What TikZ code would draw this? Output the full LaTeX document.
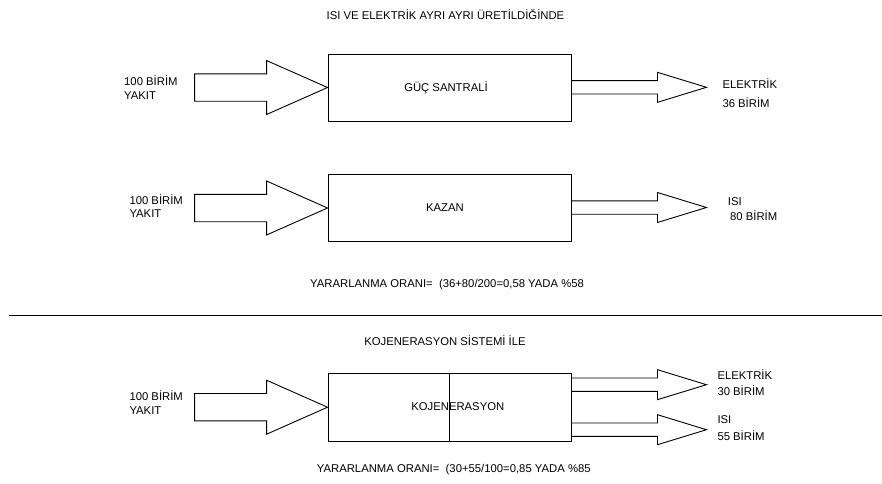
\documentclass[tikz,border=0pt]{standalone}
\usepackage{fontspec}
\setmainfont{Liberation Sans}
\begin{document}
\begin{tikzpicture}[x=1pt,y=-1pt,
  box/.style={draw=black, line width=0.9pt, rectangle, inner sep=0pt, minimum width=243pt},
  blk/.style={draw=black, line width=0.9pt, line join=miter},
  lbl/.style={anchor=base west, inner sep=0pt, font=\fontsize{11.3}{13}\selectfont},
  ctr/.style={anchor=base, inner sep=0pt, font=\fontsize{11.3}{13}\selectfont},
  pics/inarrow/.style={code={\draw[blk] (-133,-13.7) -- (-61,-13.7) -- (-61,-27) -- (0,0) -- (-61,27) -- (-61,13.7) -- (-133,13.7) -- cycle;}},
  pics/outarrow/.style={code={\draw[blk] (0,-6.7) -- (86,-6.7) -- (86,-15) -- (135,0) -- (86,15) -- (86,6.7) -- (0,6.7);}}
]
\useasboundingbox (0,0) rectangle (882,483);

% titles
\node[ctr] (t1) at (445.5,19) {ISI VE ELEKTRİK AYRI AYRI ÜRETİLDİĞİNDE};

% row 1
\node[box, minimum height=67pt] (gs) at (449.5,87.5) {};
\node[ctr] (gst) at (446,91) {GÜÇ SANTRALİ};
\pic at (gs.west) {inarrow};
\pic at (gs.east |- 0,87.3) {outarrow};
\node[lbl] (in1a) at (124,85.7) {100 BİRİM};
\node[lbl] (in1b) at (124,99) {YAKIT};
\node[lbl] (out1a) at (722.3,88.3) {ELEKTRİK};
\node[lbl] (out1b) at (722.3,107.3) {36 BİRİM};

% row 2
\node[box, minimum height=67.4pt] (kz) at (449.5,208) {};
\node[ctr] (kzt) at (445,211.5) {KAZAN};
\pic at (kz.west) {inarrow};
\pic at (kz.east |- 0,207.5) {outarrow};
\node[lbl] (in2a) at (129.3,204.3) {100 BİRİM};
\node[lbl] (in2b) at (129.3,217.7) {YAKIT};
\node[lbl] (out2a) at (727.7,205.7) {ISI};
\node[lbl] (out2b) at (730,220) {80 BİRİM};

\node[lbl] (y1) at (310,287.3) {YARARLANMA ORANI=\ \ (36+80/200=0,58 YADA \%58};

% separator
\coordinate (sl) at (9,315.3);
\coordinate (sr) at (882,315.3);
\draw[line width=1.3pt] (sl) -- (sr);

\node[ctr] (t2) at (445,345.7) {KOJENERASYON SİSTEMİ İLE};

% row 3
\node[box, minimum height=67.7pt] (kj) at (449.5,407.2) {};
\draw[line width=0.9pt] ([xshift=-0.5pt]kj.north) -- ([xshift=-0.5pt]kj.south);
\node[ctr] (kjt) at (457.8,410) {KOJENERASYON};
\pic at (kj.west) {inarrow};
\pic at (kj.east |- 0,384.7) {outarrow};
\pic at (kj.east |- 0,429.7) {outarrow};
\node[lbl] (in3a) at (129.3,400.7) {100 BİRİM};
\node[lbl] (in3b) at (129.3,414.3) {YAKIT};
\node[lbl] (out3a) at (717.3,379) {ELEKTRİK};
\node[lbl] (out3b) at (717.3,395) {30 BİRİM};
\node[lbl] (out3c) at (717.3,423.3) {ISI};
\node[lbl] (out3d) at (717.3,440) {55 BİRİM};

\node[lbl] (y2) at (316.7,472.3) {YARARLANMA ORANI=\ \ (30+55/100=0,85 YADA \%85};
\end{tikzpicture}
\end{document}
